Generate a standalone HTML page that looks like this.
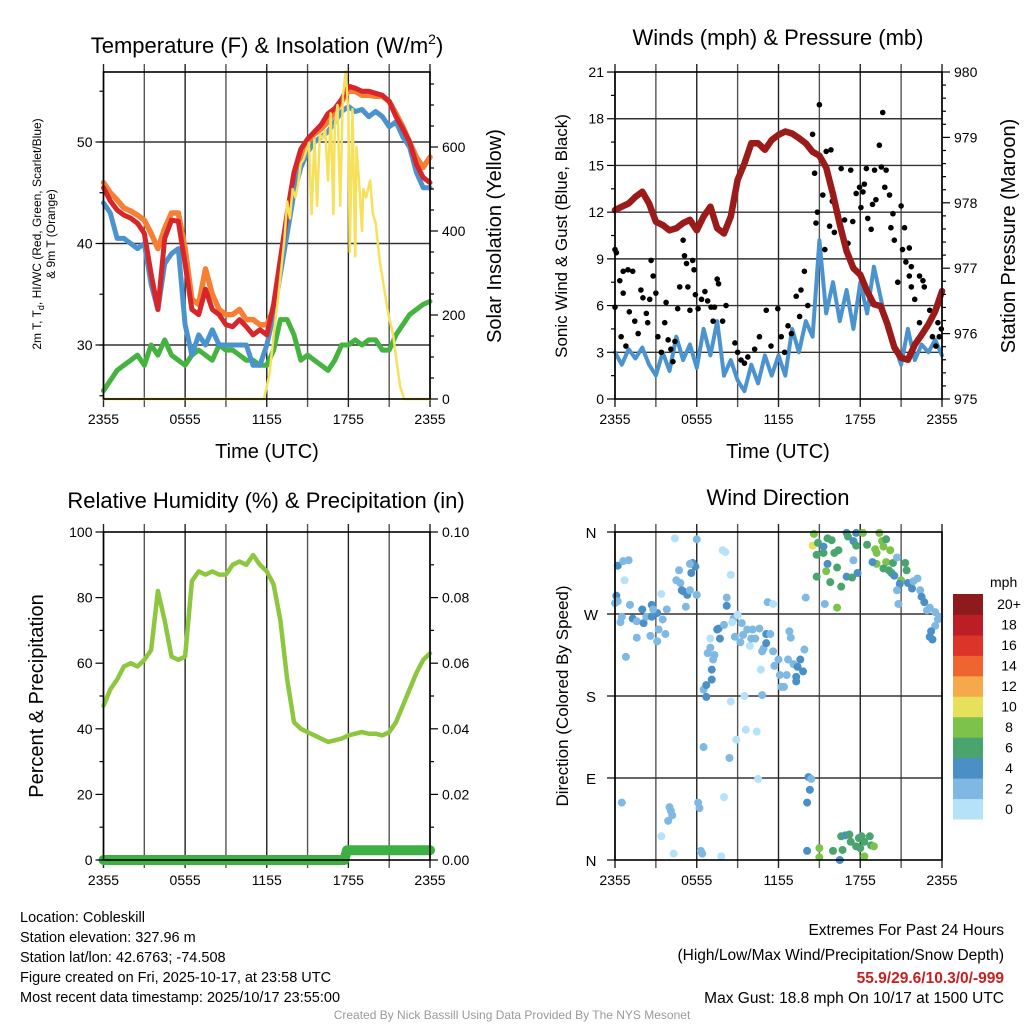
<!DOCTYPE html>
<html><head><meta charset="utf-8"><title>Mesonet Cobleskill</title>
<style>
html,body{margin:0;padding:0;background:#fff;}
svg{display:block;font-family:"Liberation Sans",Arial,sans-serif;}
</style></head>
<body>
<svg id="chart" width="1024" height="1024" viewBox="0 0 1024 1024" xmlns="http://www.w3.org/2000/svg">
<rect x="0" y="0" width="1024" height="1024" fill="#fff"/>
<g id="layer-grid"></g>
<g id="layer-data"></g>
<g id="layer-axes"></g>

<!-- Titles -->
<text x="267" y="53" font-size="22" text-anchor="middle">Temperature (F) &amp; Insolation (W/m<tspan font-size="14" dy="-9">2</tspan><tspan dy="9">)</tspan></text>
<text x="778" y="45" font-size="22" text-anchor="middle">Winds (mph) &amp; Pressure (mb)</text>
<text x="266" y="508" font-size="22" text-anchor="middle">Relative Humidity (%) &amp; Precipitation (in)</text>
<text x="778" y="505" font-size="22" text-anchor="middle">Wind Direction</text>

<!-- Axis titles -->
<text transform="translate(41,234) rotate(-90)" font-size="12" text-anchor="middle">2m T, T<tspan font-size="9" dy="3">d</tspan><tspan dy="-3">, HI/WC (Red, Green, Scarlet/Blue)</tspan></text>
<text transform="translate(55,234) rotate(-90)" font-size="12" text-anchor="middle">&amp; 9m T (Orange)</text>
<text transform="translate(501,236) rotate(-90)" font-size="20" text-anchor="middle">Solar Insolation (Yellow)</text>
<text x="267" y="458" font-size="20" text-anchor="middle">Time (UTC)</text>
<text x="778" y="458" font-size="20" text-anchor="middle">Time (UTC)</text>
<text transform="translate(567,236) rotate(-90)" font-size="17" text-anchor="middle">Sonic Wind &amp; Gust (Blue, Black)</text>
<text transform="translate(1015,236) rotate(-90)" font-size="20" text-anchor="middle">Station Pressure (Maroon)</text>
<text transform="translate(43,696) rotate(-90)" font-size="20" text-anchor="middle">Percent &amp; Precipitation</text>
<text transform="translate(568,696) rotate(-90)" font-size="17" text-anchor="middle">Direction (Colored By Speed)</text>

<!-- Colorbar title -->
<text x="990" y="587" font-size="14" text-anchor="start">mph</text>

<!-- Footer text -->
<g font-size="14.5">
<text x="20" y="922">Location: Cobleskill</text>
<text x="20" y="942">Station elevation: 327.96 m</text>
<text x="20" y="962">Station lat/lon: 42.6763; -74.508</text>
<text x="20" y="982">Figure created on Fri, 2025-10-17, at 23:58 UTC</text>
<text x="20" y="1002">Most recent data timestamp: 2025/10/17 23:55:00</text>
</g>
<g font-size="15.5" text-anchor="end">
<text x="1004" y="935">Extremes For Past 24 Hours</text>
<text x="1004" y="960">(High/Low/Max Wind/Precipitation/Snow Depth)</text>
<text x="1004" y="983" font-weight="bold" fill="#c8201f">55.9/29.6/10.3/0/-999</text>
<text x="1004" y="1003">Max Gust: 18.8 mph On 10/17 at 1500 UTC</text>
</g>
<text x="512" y="1019" font-size="12" fill="#999" text-anchor="middle">Created By Nick Bassill Using Data Provided By The NYS Mesonet</text>
</svg>

<script>
// ---------- DATA ----------
const hours = [0,0.5,1,1.5,2,2.5,3,3.5,4,4.5,5,5.5,6,6.5,7,7.5,8,8.5,9,9.5,10,10.5,11,11.5,12,12.5,13,13.5,14,14.5,15,15.5,16,16.5,17,17.5,18,18.5,19,19.5,20,20.5,21,21.5,22,22.5,23,23.5,24];
const timeTickLabels = ["2355","0555","1155","1755","2355"];
const timeTickHours = [0,6,12,18,24];

const tempRed = [45.5,44.2,43.3,42.8,42.5,42,41,37,33.5,40.5,42.3,42.2,38,33.5,33,35.5,33.5,33,32,31.8,32.5,31.8,31,31.5,31,34,38.5,43,47,49.3,50.3,51,51.7,52.8,53.3,54.2,55.5,55.3,55,55,54.8,54.6,54,52.5,51.3,50,47.8,46.5,46];
const tempOrange = [46,45,44.3,43.5,43.2,42.8,42.3,41,39.5,41.5,43,43,39.5,34.5,34,37.5,35,33.5,33,33,33.5,32.5,32.5,32,32,33.5,38,42.5,46,48.5,50,50.8,51.3,52,53,54,55,55,54.6,54.6,54.5,54.5,54,52.8,51.5,50,48.5,47.5,48.5];
const tempBlue = [44,43,40.5,40.5,40,39.5,40,36,33.5,38,39,39.5,32,29,31,30,31.5,30,30,30,30,30,28,28,30,33,37,41,45,47.5,49,50,50.5,51,52,53,53.5,53,53.2,52.5,53,52.5,51.5,52,50.5,49.5,47,45.5,45.5];
const dewGreen = [25.5,26.5,27.5,28,28.5,29,28,30,29,30.5,29,28.5,28,29,29.5,29,28.5,30,29.5,29.5,29,28.5,28.5,28,28,29.5,32.5,32.5,31,28.5,29,28.5,28,27.5,28.5,30,30,30.5,30,30.5,30.5,29.5,29.5,31,32,33,33.5,34,34.3];
const solarHours = [0,11.8,12.2,12.5,12.8,13,13.3,13.5,13.7,13.9,14.1,14.3,14.5,14.7,14.9,15.1,15.3,15.5,15.7,15.9,16.1,16.3,16.5,16.7,16.9,17,17.2,17.4,17.6,17.8,18,18.1,18.3,18.5,18.6,18.8,19,19.1,19.3,19.6,19.8,20,20.3,20.6,20.9,21.3,21.5,21.8,22.1,24];
const solarValues = [0,0,60,150,230,290,380,470,430,500,480,510,560,570,590,610,440,620,460,630,620,640,520,680,440,650,700,460,720,780,680,350,690,340,600,510,400,500,480,520,440,420,330,270,210,150,100,30,0,0];

const windSpeed = [3.0,2.2,3.2,2.6,3.3,2.2,1.5,3.0,1.8,4.0,2.5,3.5,2.0,4.5,2.8,5.0,1.5,2.5,1.2,0.5,2.2,1.0,2.8,1.5,2.8,1.5,4.5,3.0,5.0,4.0,10.2,5.5,7.5,5.0,7.0,4.5,7.5,5.5,8.5,6.5,4.5,3.5,2.2,4.5,2.5,3.5,3.0,3.8,2.8];
const pressure = [977.89,977.94,977.99,978.09,978.17,977.99,977.71,977.66,977.58,977.61,977.69,977.74,977.58,977.79,977.94,977.61,977.53,977.79,978.35,978.6,978.91,978.91,978.81,978.96,979.04,979.09,979.06,978.99,978.91,978.78,978.72,978.54,978.13,977.67,977.26,977.0,976.9,976.65,976.45,976.42,976.14,975.79,975.63,975.6,975.83,975.98,976.14,976.34,976.65];
const gustHours = [0,0.1,0,0.35,0.45,0.6,0.95,1.3,0.6,0.8,1.05,1.45,1.7,1.9,2.05,2.3,2.4,2.55,2.65,2.8,3.0,3.15,3.4,3.65,3.75,3.9,4.1,4.25,4.4,4.6,4.75,5.0,5.1,5.25,5.35,5.5,5.7,5.8,5.9,6.1,6.35,6.6,6.8,7.05,7.2,7.3,7.5,7.6,8.15,7.9,8.8,9.0,9.25,9.5,9.75,10.25,10.6,11.1,11.45,11.95,12.2,12.45,12.7,12.95,13.3,13.55,13.65,13.9,14.15,14.5,14.65,14.75,14.85,15.0,15.15,15.25,15.4,15.5,15.6,15.75,15.85,15.95,16.1,16.25,16.6,16.85,17.1,17.3,17.45,17.7,17.95,18.05,18.2,18.3,18.45,18.55,18.8,18.9,19.05,19.15,19.4,19.55,19.65,19.8,19.9,20.15,20.25,20.4,20.5,20.75,21.0,21.1,21.25,21.35,21.6,21.75,21.6,21.75,22.0,22.35,22.6,22.7,22.35,23.1,23.3,23.7,23.8,23.55,23.95];
const gustValues = [9.6,9.4,5.9,7.6,4.0,8.2,8.3,8.2,6.8,3.4,5.6,5.0,4.2,7.0,6.5,5.5,4.9,6.4,8.9,7.9,6.8,4.0,3.0,4.9,6.2,3.8,3.2,2.4,3.7,5.8,7.2,10.2,9.2,8.7,7.2,5.7,8.9,8.3,6.7,5.8,6.4,6.9,6.3,5.9,5.0,5.9,7.7,7.4,6.0,5.0,3.6,3.0,2.5,2.3,2.7,3.2,4.0,5.7,3.4,5.8,4.0,3.0,4.7,4.2,6.6,5.3,7.0,8.2,6.0,17.0,14.5,11.3,12.0,18.9,15.3,13.1,9.6,15.9,14.4,11.1,16.0,12.7,10.7,12.2,14.8,11.5,10.0,14.7,11.4,13.2,13.6,12.3,13.3,13.8,14.8,11.6,10.9,12.5,14.7,12.8,16.3,14.9,18.4,13.6,14.7,13.1,11.0,11.9,10.2,7.5,12.4,9.6,11.0,8.8,9.7,8.5,7.9,7.2,6.4,7.9,7.6,7.2,4.9,5.7,4.0,4.9,4.0,3.4,4.5];

const relHumidity = [47,52,55,59,60,59,61,64,82,73,62,61,62,85,88,87,88,87,87,90,91,90,93,90,88,84,73,55,42,40,39,38,37,36,36.5,37,38,38.5,39,38.5,38.5,38,39,42,47,52,57,61,63];
const precipHours = [0,17.7,17.9,24];
const precipValues = [0,0,0.003,0.003];

const dirHours = [0.2,0.6,1.0,0.7,0.1,0.0,0.2,0.5,0.4,1.1,1.3,1.6,2.0,2.1,2.3,2.7,2.7,3.1,2.8,3.2,3.5,3.8,3.7,2.6,1.6,0.8,3.1,3.4,0.5,
4.7,4.5,4.8,4.9,5.0,5.3,5.5,5.2,5.7,5.9,5.6,6.0,6.0,4.4,5.5,
4.0,4.1,4.2,3.9,3.4,4.3,6.1,6.2,6.3,6.4,6.5,7.8,8.0,8.4,8.9,9.6,10.4,10.5,8.5,9.5,10.8,
6.5,6.7,6.7,7.1,7.1,7.2,6.8,7.0,7.3,7.5,7.6,7.7,7.0,8.0,8.7,8.8,9.0,9.2,9.3,9.4,9.7,9.9,10.0,10.1,10.3,10.6,10.8,10.9,11.1,11.1,11.4,11.6,11.7,12.0,12.1,12.2,12.4,12.6,12.7,12.8,12.9,13.1,13.3,13.3,13.4,13.6,13.8,13.9,8.2,8.2,8.5,7.9,8.1,11.2,11.6,9.0,8.6,10.7,
14.6,14.5,14.9,15.3,15.6,15.9,14.8,15.3,15.6,15.5,16.1,16.4,16.3,14.8,15.8,16.6,15.4,16.3,14.0,17.0,17.1,17.5,17.7,17.7,18.2,18.5,19.1,19.2,19.4,19.6,19.7,19.9,20.2,19.2,19.9,20.4,18.9,19.7,20.1,20.3,20.5,20.7,21.0,20.9,21.3,21.4,21.5,21.8,21.9,22.2,22.4,22.5,22.7,22.9,23.1,23.5,23.7,23.8,23.5,23.2,23.1,23.3,20.7,20.8,17.5,17.0,17.4,17.8,
14.2,14.4,14.3,14.1,14.1,15.0,15.0,16.0,16.5,16.6,16.7,16.9,17.2,17.3,17.7,17.9,18.1,18.3,18.3,18.7,18.8,19.0,18.0];
const dirDegrees = [323,328,329,307,290,282,284,267,261,280,265,262,275,260,267,280,267,271,275,253,264,275,248,246,244,223,240,292,63,
318,307,304,296,295,291,296,278,326,322,315,291,352,353,325,
58,54,49,43,26,7,63,57,10,7,124,4,69,112,132,143,141,89,174,180,181,
187,179,192,198,209,220,227,233,225,253,254,243,243,258,265,245,269,239,260,247,253,235,243,253,243,254,229,232,238,248,248,229,213,220,203,190,190,203,220,251,244,215,196,201,212,220,207,231,288,279,313,340,338,283,281,269,261,209,
358,345,348,344,353,351,335,337,325,317,337,340,321,311,305,300,281,277,288,359,355,350,359,345,359,346,341,337,359,350,344,352,340,325,327,326,327,320,318,315,312,332,307,303,326,318,304,298,306,309,296,289,283,274,277,272,264,267,257,251,245,242,296,281,329,311,310,315,
91,89,77,63,10,13,3,10,0,26,11,27,28,20,15,24,26,20,4,26,16,15,13];
const dirSpeeds = [5,3,3,1,5,3,3,3,3,3,5,3,5,5,3,5,5,5,3,3,3,3,3,3,3,3,3,1,3,
3,3,3,5,5,5,3,3,5,5,5,3,3,1,3,
3,3,3,3,1,1,3,3,3,3,3,1,1,3,1,1,1,1,1,1,3,
3,5,5,5,5,3,3,3,3,5,5,5,1,3,3,3,3,3,3,3,3,1,3,3,3,3,3,3,5,5,3,3,3,3,3,3,3,3,3,3,3,3,5,5,5,5,5,3,3,5,1,1,1,3,1,1,1,1,
9,10.5,7,5,7,7,7,7,5,9,7,7,7,7,7,7,3,9,3,5,7,5,5,7,9,7,9,9,9,9,9,7,9,9,9,7,5,7,7,7,5,3,9,5,7,7,5,5,3,3,3,5,5,3,3,3,3,3,3,5,5,5,3,3,3,5,7,5,
5,3,5,5,5,9,9,7,5,7,7,5,7,7,7,7,7,7,9,7,7,9,7];

const speedColors = ["#b5e2f8","#7fb9e3","#4a8fc6","#4aa46e","#7cc24b","#e6e05a","#f6a94b","#ef6530","#dc3428","#bb1e24","#8e1a1b"];
const speedLabels = ["0","2","4","6","8","10","12","14","16","18","20+"];

// ---------- HELPERS ----------
const NS = "http://www.w3.org/2000/svg";
const gGrid = document.getElementById('layer-grid');
const gData = document.getElementById('layer-data');
const gAxes = document.getElementById('layer-axes');
function mk(tag, attrs, parent){
  const e = document.createElementNS(NS, tag);
  for (const k in attrs) e.setAttribute(k, attrs[k]);
  parent.appendChild(e);
  return e;
}
function linePath(xs, ys, xf, yf){
  let d = "";
  for (let i=0;i<xs.length;i++){ d += (i?"L":"M") + xf(xs[i]).toFixed(1) + "," + yf(ys[i]).toFixed(1); }
  return d;
}

// panel geometry
const P = {
  temp:{x0:103.5,x1:430,y0:72,y1:399},
  wind:{x0:615,x1:942,y0:72,y1:399},
  rh:{x0:103.5,x1:430,y0:532,y1:860},
  dir:{x0:615,x1:942,y0:532,y1:860}
};
function xScale(p){ return t => p.x0 + t*(p.x1-p.x0)/24; }
const xT = xScale(P.temp), xW = xScale(P.wind), xR = xScale(P.rh), xD = xScale(P.dir);
const yTemp = v => 345 - (v-30)*10.15;
const ySolar = v => 399 - v*0.42;
const yWind = v => 399 - v*15.57;
const yPres = v => 399 - (v-975)*65.4;
const yRH = v => 860 - v*3.28;
const yPrecip = v => 860 - v*3280;
const yDir = v => 860 - v*(328/360);

// ---------- GRID & FRAMES ----------
function vGrid(p, xf, name){
  for (let h=0; h<=24; h+=3){
    const l = mk('line',{x1:xf(h),x2:xf(h),y1:p.y0-8,y2:p.y1+8,stroke:(h%6===0?'#222':'#555'),'stroke-width':1.4},gGrid);
    
    
  }
}
function hGrid(p, ys, name){
  ys.forEach(y=>{
    const l = mk('line',{x1:p.x0,x2:p.x1,y1:y,y2:y,stroke:'#333','stroke-width':1.4},gGrid);
    
    
  });
}
vGrid(P.temp,xT,'temperature'); vGrid(P.wind,xW,'wind'); vGrid(P.rh,xR,'humidity'); vGrid(P.dir,xD,'direction');
hGrid(P.temp,[30,40,50].map(yTemp),'temperature');
hGrid(P.wind,[3,6,9,12,15,18].map(yWind),'wind');
hGrid(P.dir,[90,180,270].map(yDir),'direction');

function frame(p,name){
  const r = mk('rect',{x:p.x0,y:p.y0,width:p.x1-p.x0,height:p.y1-p.y0,fill:'none',stroke:'#000','stroke-width':1.6},gAxes);
  
  
}
function yTicks(p, vals, yf, side, len, name){
  vals.forEach(v=>{
    const y = yf(v);
    const x = side==='left'? p.x0 : p.x1;
    const dx = side==='left'? -len : len;
    const l = mk('line',{x1:x,x2:x+dx,y1:y,y2:y,stroke:'#000','stroke-width':1.2},gAxes);
    
    
  });
}
function yLabels(p, vals, labels, yf, side, off, name, size){
  vals.forEach((v,i)=>{
    const x = side==='left'? p.x0-off : p.x1+off;
    const t = mk('text',{x:x,y:yf(v)+5,'font-size':size||14,'text-anchor':side==='left'?'end':'start'},gAxes);
    t.textContent = labels[i];
    
    
  });
}
function xLabels(p, xf, name){
  timeTickHours.forEach((h,i)=>{
    const t = mk('text',{x:xf(h),y:p.y1+25,'font-size':14,'text-anchor':'middle'},gAxes);
    t.textContent = timeTickLabels[i];
    
    
  });
}

// ---------- TEMPERATURE PANEL ----------
function series(xs, ys, xf, yf, color, w, name){
  const p = mk('path',{d:linePath(xs,ys,xf,yf),fill:'none',stroke:color,'stroke-width':w,'stroke-linejoin':'round','stroke-linecap':'round'},gData);
  
  
}
series(hours, dewGreen, xT, yTemp, '#45b340', 5, 'dewpoint-line');
series(hours, tempOrange, xT, yTemp, '#f57f32', 5.5, 'temp-9m-line');
series(hours, tempBlue, xT, yTemp, '#4b93cf', 5, 'heat-index-windchill-line');
series(hours, tempRed, xT, yTemp, '#d7262b', 5, 'temp-2m-line');
series(solarHours, solarValues, xT, ySolar, '#f7e05a', 2.5, 'solar-insolation-line');
frame(P.temp,'temperature');
yTicks(P.temp,[25,30,35,40,45,50,55],yTemp,'left',4,'temperature-minor');
yTicks(P.temp,[30,40,50],yTemp,'left',8,'temperature-major');
yLabels(P.temp,[30,40,50],["30","40","50"],yTemp,'left',11,'temperature');
yTicks(P.temp,[50,100,150,250,300,350,450,500,550,650,700,750],ySolar,'right',4,'solar-minor');
yTicks(P.temp,[0,200,400,600],ySolar,'right',8,'solar-major');
yLabels(P.temp,[0,200,400,600],["0","200","400","600"],ySolar,'right',12,'solar');
xLabels(P.temp,xT,'temperature');

// ---------- WIND PANEL ----------
series(hours, windSpeed, xW, yWind, '#4b93cf', 4, 'sonic-wind-line');
gustHours.forEach((h,i)=>{
  const c = mk('circle',{cx:xW(h),cy:yWind(gustValues[i]),r:2.8,fill:'#000'},gData);
  
  
});
series(hours, pressure, xW, yPres, '#9b1b1b', 6.5, 'station-pressure-line');
frame(P.wind,'wind');
yTicks(P.wind,[1.5,4.5,7.5,10.5,13.5,16.5,19.5],yWind,'left',4,'wind-minor');
yTicks(P.wind,[0,3,6,9,12,15,18,21],yWind,'left',8,'wind-major');
yLabels(P.wind,[0,3,6,9,12,15,18,21],["0","3","6","9","12","15","18","21"],yWind,'left',11,'wind');
yTicks(P.wind,[975.2,975.4,975.6,975.8,976.2,976.4,976.6,976.8,977.2,977.4,977.6,977.8,978.2,978.4,978.6,978.8,979.2,979.4,979.6,979.8],yPres,'right',4,'pressure-minor');
yTicks(P.wind,[975,976,977,978,979,980],yPres,'right',8,'pressure-major');
yLabels(P.wind,[975,976,977,978,979,980],["975","976","977","978","979","980"],yPres,'right',12,'pressure');
xLabels(P.wind,xW,'wind');

// ---------- HUMIDITY PANEL ----------
series(hours, relHumidity, xR, yRH, '#8dc63f', 4.5, 'relative-humidity-line');
series(precipHours, precipValues, xR, yPrecip, '#3cb043', 10, 'precipitation-line');
frame(P.rh,'humidity');
yTicks(P.rh,[10,30,50,70,90],yRH,'left',4,'humidity-minor');
yTicks(P.rh,[0,20,40,60,80,100],yRH,'left',8,'humidity-major');
yLabels(P.rh,[0,20,40,60,80,100],["0","20","40","60","80","100"],yRH,'left',11,'humidity');
yTicks(P.rh,[0.01,0.03,0.05,0.07,0.09],yPrecip,'right',4,'precip-minor');
yTicks(P.rh,[0,0.02,0.04,0.06,0.08,0.1],yPrecip,'right',8,'precip-major');
yLabels(P.rh,[0,0.02,0.04,0.06,0.08,0.1],["0.00","0.02","0.04","0.06","0.08","0.10"],yPrecip,'right',12,'precip');
xLabels(P.rh,xR,'humidity');

// ---------- DIRECTION PANEL ----------
dirHours.forEach((h,i)=>{
  const idx = Math.min(10, Math.floor(dirSpeeds[i]/2));
  const c = mk('circle',{cx:xD(h),cy:yDir(dirDegrees[i]),r:4,fill:speedColors[idx]},gData);
  
  
});
frame(P.dir,'direction');
yTicks(P.dir,[0,90,180,270,360],yDir,'left',8,'direction-major');
const dirLabelVals = [360,270,180,90,0];
const dirLabelText = ["N","W","S","E","N"];
dirLabelVals.forEach((v,i)=>{
  const t = mk('text',{x:591,y:yDir(v)+6,'font-size':15,'text-anchor':'middle'},gAxes);
  t.textContent = dirLabelText[i];
  
  
});
xLabels(P.dir,xD,'direction');

// colorbar
const cbTop = 594, cbBot = 819, cbX = 953, cbW = 30;
const boxH = (cbBot-cbTop)/speedColors.length;
speedColors.forEach((col,i)=>{
  const j = speedColors.length-1-i;
  const r = mk('rect',{x:cbX,y:cbTop+j*boxH,width:cbW,height:boxH+0.5,fill:col},gAxes);
  
  
  const t = mk('text',{x:cbX+cbW+26,y:cbTop+j*boxH+boxH/2+5,'font-size':14,'text-anchor':'middle'},gAxes);
  t.textContent = speedLabels[i];
  
  
});
</script>
</body></html>
